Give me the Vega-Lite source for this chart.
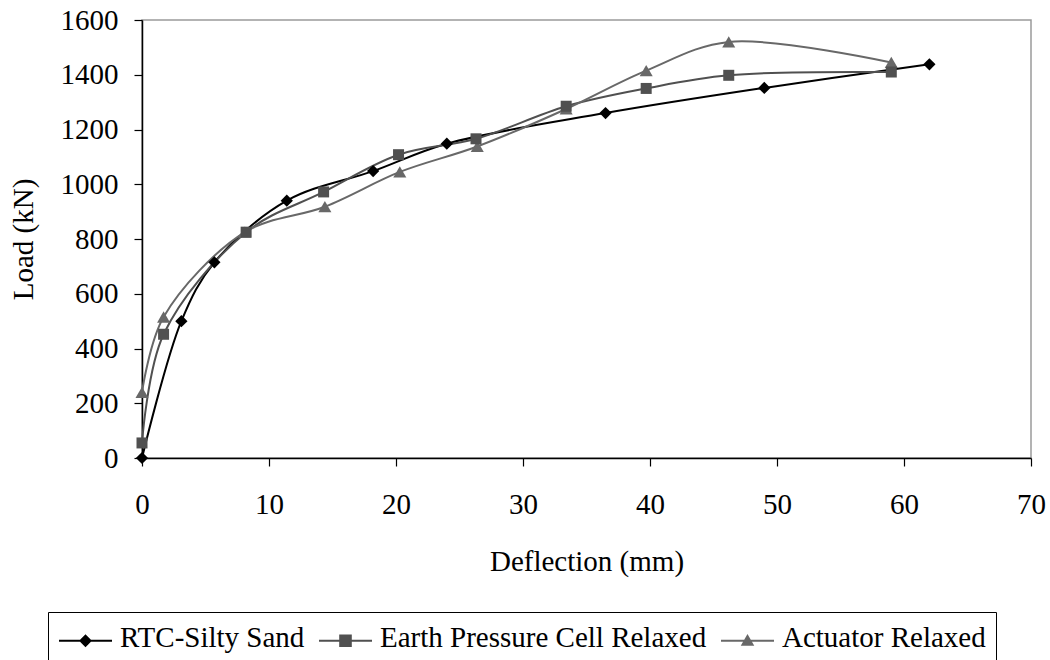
{
  "$schema": "https://vega.github.io/schema/vega-lite/v6.json",
  "width": 889,
  "height": 438,
  "autosize": {"type": "none"},
  "padding": {"left": 142, "top": 20, "right": 19, "bottom": 202},
  "background": "white",
  "config": {
    "font": "Liberation Serif",
    "view": {"stroke": "#9a9a9a", "strokeWidth": 1.5},
    "axis": {
      "grid": false,
      "labelFont": "Liberation Serif",
      "labelFontSize": 29,
      "labelColor": "#000000",
      "titleFont": "Liberation Serif",
      "titleFontSize": 29,
      "titleFontWeight": "normal",
      "titleColor": "#000000",
      "domainColor": "#000000",
      "domainWidth": 1.5,
      "tickColor": "#000000",
      "tickWidth": 1.2,
      "tickSize": 8
    },
    "legend": {
      "title": null,
      "orient": "none",
      "legendX": -94,
      "legendY": 592,
      "direction": "horizontal",
      "columns": 3,
      "symbolSize": 2809,
      "symbolStrokeWidth": 2,
      "symbolOpacity": 1,
      "labelFont": "Liberation Serif",
      "labelFontSize": 29,
      "labelColor": "#000000",
      "labelLimit": 0,
      "labelOffset": 7,
      "labelBaseline": "alphabetic",
      "columnPadding": 10,
      "padding": 10,
      "strokeColor": "#000000",
      "fillColor": "#ffffff"
    }
  },
  "data": {
    "values": [
      {"series": "RTC-Silty Sand", "x": 0, "y": 0},
      {"series": "RTC-Silty Sand", "x": 3.1, "y": 500},
      {"series": "RTC-Silty Sand", "x": 5.7, "y": 715},
      {"series": "RTC-Silty Sand", "x": 11.4, "y": 940},
      {"series": "RTC-Silty Sand", "x": 18.2, "y": 1048},
      {"series": "RTC-Silty Sand", "x": 24.0, "y": 1148},
      {"series": "RTC-Silty Sand", "x": 36.5, "y": 1260},
      {"series": "RTC-Silty Sand", "x": 49.0, "y": 1352},
      {"series": "RTC-Silty Sand", "x": 62.0, "y": 1438},
      {"series": "Earth Pressure Cell Relaxed", "x": 0, "y": 55},
      {"series": "Earth Pressure Cell Relaxed", "x": 1.7, "y": 452},
      {"series": "Earth Pressure Cell Relaxed", "x": 8.2, "y": 825},
      {"series": "Earth Pressure Cell Relaxed", "x": 14.3, "y": 972},
      {"series": "Earth Pressure Cell Relaxed", "x": 20.2, "y": 1108},
      {"series": "Earth Pressure Cell Relaxed", "x": 26.3, "y": 1166},
      {"series": "Earth Pressure Cell Relaxed", "x": 33.4, "y": 1285},
      {"series": "Earth Pressure Cell Relaxed", "x": 39.7, "y": 1350},
      {"series": "Earth Pressure Cell Relaxed", "x": 46.2, "y": 1398},
      {"series": "Earth Pressure Cell Relaxed", "x": 59.0, "y": 1410},
      {"series": "Actuator Relaxed", "x": 0, "y": 240},
      {"series": "Actuator Relaxed", "x": 1.7, "y": 515},
      {"series": "Actuator Relaxed", "x": 8.1, "y": 825},
      {"series": "Actuator Relaxed", "x": 14.4, "y": 918},
      {"series": "Actuator Relaxed", "x": 20.3, "y": 1045},
      {"series": "Actuator Relaxed", "x": 26.4, "y": 1138},
      {"series": "Actuator Relaxed", "x": 33.4, "y": 1275},
      {"series": "Actuator Relaxed", "x": 39.7, "y": 1415},
      {"series": "Actuator Relaxed", "x": 46.2, "y": 1520},
      {"series": "Actuator Relaxed", "x": 59.0, "y": 1445}
    ]
  },
  "encoding": {
    "x": {
      "field": "x",
      "type": "quantitative",
      "scale": {"domain": [0, 70], "nice": false, "zero": false},
      "axis": {
        "values": [0, 10, 20, 30, 40, 50, 60, 70],
        "format": "d",
        "labelFlush": false,
        "labelOverlap": false,
        "labelPadding": 24,
        "title": "Deflection (mm)",
        "titleBaseline": "alphabetic",
        "titleY": 112
      }
    },
    "y": {
      "field": "y",
      "type": "quantitative",
      "scale": {"domain": [0, 1600], "nice": false},
      "axis": {
        "values": [0, 200, 400, 600, 800, 1000, 1200, 1400, 1600],
        "format": "d",
        "labelFlush": false,
        "labelOverlap": false,
        "labelPadding": 16,
        "title": "Load (kN)",
        "titleAngle": -90,
        "titleBaseline": "alphabetic",
        "titleX": -110,
        "titleY": 219
      }
    },
    "color": {
      "field": "series",
      "type": "nominal",
      "scale": {
        "domain": ["RTC-Silty Sand", "Earth Pressure Cell Relaxed", "Actuator Relaxed"],
        "range": ["#000000", "#505050", "#686868"]
      },
      "legend": {
        "title": null,
        "encode": {
          "symbols": {
            "update": {
              "fill": {"signal": "datum.value === 'RTC-Silty Sand' ? '#000000' : datum.value === 'Earth Pressure Cell Relaxed' ? '#505050' : '#686868'"},
              "stroke": {"signal": "datum.value === 'RTC-Silty Sand' ? '#000000' : datum.value === 'Earth Pressure Cell Relaxed' ? '#505050' : '#686868'"},
              "opacity": {"value": 1},
              "strokeWidth": {"value": 2}
            }
          },
          "labels": {
            "update": {
              "dy": {"value": -3}
            }
          }
        }
      }
    }
  },
  "layer": [
    {
      "mark": {"type": "line", "interpolate": "catmull-rom", "strokeWidth": 2}
    },
    {
      "transform": [{"filter": "datum.series === 'Actuator Relaxed'"}],
      "mark": {"type": "point", "filled": true, "opacity": 1, "shape": "triangle-up", "size": 170}
    },
    {
      "transform": [{"filter": "datum.series === 'Earth Pressure Cell Relaxed'"}],
      "mark": {"type": "point", "filled": true, "opacity": 1, "shape": "square", "size": 121}
    },
    {
      "transform": [{"filter": "datum.series === 'RTC-Silty Sand'"}],
      "mark": {"type": "point", "filled": true, "opacity": 1, "shape": "diamond", "size": 150}
    },
    {
      "mark": {"type": "point", "filled": true, "opacity": 0},
      "encoding": {
        "shape": {
          "field": "series",
          "type": "nominal",
          "scale": {
            "domain": ["RTC-Silty Sand", "Earth Pressure Cell Relaxed", "Actuator Relaxed"],
            "range": [
              "M-1,-0.34L1,-0.34M0,-0.53L0.19,-0.34L0,-0.15L-0.19,-0.34Z",
              "M-1,-0.34L1,-0.34M-0.2,-0.54L0.2,-0.54L0.2,-0.14L-0.2,-0.14Z",
              "M-1,-0.34L1,-0.34M0,-0.52L0.19,-0.19L-0.19,-0.19Z"
            ]
          },
          "legend": {
            "title": null,
            "encode": {
              "symbols": {
                "update": {
                  "fill": {"signal": "datum.value === 'RTC-Silty Sand' ? '#000000' : datum.value === 'Earth Pressure Cell Relaxed' ? '#505050' : '#686868'"},
                  "stroke": {"signal": "datum.value === 'RTC-Silty Sand' ? '#000000' : datum.value === 'Earth Pressure Cell Relaxed' ? '#505050' : '#686868'"},
                  "opacity": {"value": 1},
                  "strokeWidth": {"value": 2}
                }
              },
              "labels": {
                "update": {
                  "dy": {"value": -3}
                }
              }
            }
          }
        }
      }
    }
  ]
}
